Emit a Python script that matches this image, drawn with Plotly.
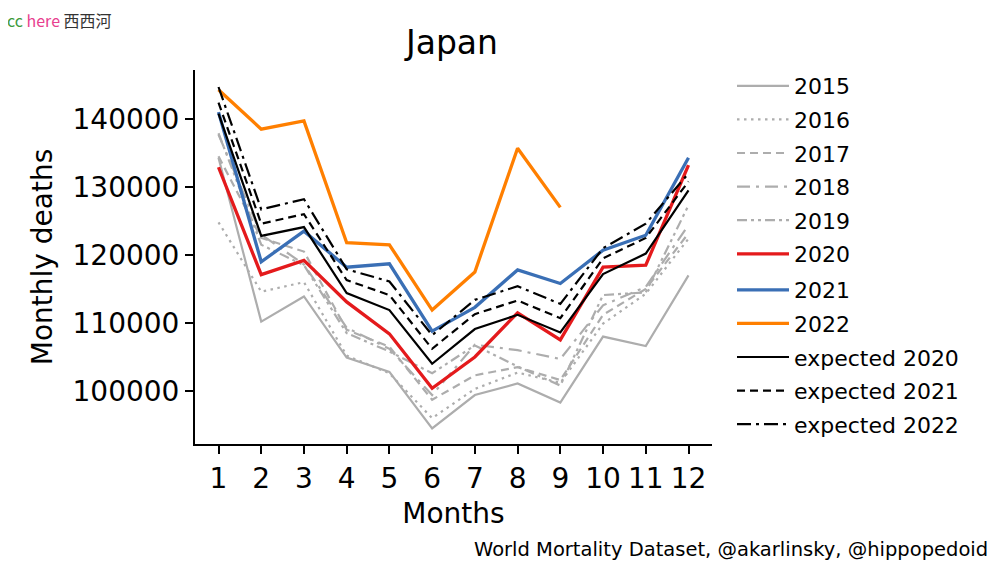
import plotly.graph_objects as go

months = list(range(1, 13))

y2015 = [134300, 110200, 113900, 104900, 102800, 94500, 99400, 101100, 98300, 108000, 106600, 117000]
y2016 = [124800, 114600, 116000, 105200, 102600, 96000, 100300, 102700, 101200, 109900, 114300, 122400]
y2017 = [134500, 122500, 120500, 109000, 106500, 98700, 102300, 103500, 101600, 111200, 115000, 123200]
y2018 = [137700, 123000, 118600, 109300, 106200, 99400, 106800, 106000, 104700, 112600, 115300, 124400]
y2019 = [137900, 121500, 118500, 108500, 105800, 102600, 106700, 103600, 100800, 114100, 114500, 127300]
y2020 = [132900, 117100, 119200, 113100, 108400, 100400, 105000, 111500, 107500, 118200, 118500, 133200]
y2021 = [141000, 119000, 123500, 118200, 118700, 108800, 112300, 117800, 115800, 120700, 122900, 134300]
y2022 = [144300, 138500, 139700, 121800, 121500, 111900, 117500, 135700, 127000]
exp2020 = [140800, 122800, 124100, 114400, 111900, 104000, 109100, 111200, 108600, 117200, 120200, 129500]
exp2021 = [142400, 124600, 126000, 116300, 114100, 106200, 111300, 113300, 110700, 119500, 122500, 130800]
exp2022 = [144700, 126700, 128200, 117900, 116100, 108200, 113400, 115400, 112800, 121000, 124600, 132000]

yticks = [100000, 110000, 120000, 130000, 140000]

GREY = "#adadad"
series = [
    ("2015", y2015, GREY, "solid", 2.2, "legend"),
    ("2016", y2016, GREY, "2.5px,4.5px", 2.2, "legend"),
    ("2017", y2017, GREY, "8px,5px", 2.2, "legend"),
    ("2018", y2018, GREY, "13px,6px,3px,6px", 2.2, "legend"),
    ("2019", y2019, GREY, "10px,4px,3px,4px,3px,4px", 2.2, "legend"),
    ("2020", y2020, "#e41a1c", "solid", 3.3, "legend"),
    ("2021", y2021, "#3a6fb5", "solid", 3.3, "legend2"),
    ("2022", y2022, "#ff7f00", "solid", 3.3, "legend2"),
    ("expected 2020", exp2020, "black", "solid", 2.2, "legend2"),
    ("expected 2021", exp2021, "black", "8px,5px", 2.2, "legend2"),
    ("expected 2022", exp2022, "black", "14px,5px,3px,5px", 2.2, "legend2"),
]

fig = go.Figure()
for name, vals, color, dash, w, leg in series:
    fig.add_trace(go.Scatter(
        x=months[:len(vals)], y=vals, mode="lines", name=name,
        legendgroup=name, legend=leg,
        line=dict(color=color, dash=dash, width=w),
    ))

FONT = "DejaVu Sans"
# the page body adds an 8px offset; figure coordinates below are page - 8
W, H = 992, 554
L, T = 187, 62
PW, PH = 517, 374

leg_common = dict(xanchor="left", yanchor="top",
                  font=dict(size=22, family=FONT, color="black"),
                  tracegroupgap=2, bgcolor="rgba(0,0,0,0)", itemwidth=52)
legx = (732 - 8 - L) / PW
fig.update_layout(
    width=W, height=H,
    paper_bgcolor="white", plot_bgcolor="white",
    margin=dict(l=L, r=W - L - PW, t=T, b=H - T - PH),
    font=dict(family=FONT, color="black"),
    title=dict(text="Japan", x=(452 - 8) / W, xanchor="center",
               y=1 - (42 - 8) / H, yanchor="middle",
               font=dict(size=33, family=FONT, color="black")),
    showlegend=True,
    legend=dict(x=legx, y=1 + (T - (65 - 8)) / PH, **leg_common),
    legend2=dict(x=legx, y=1 - ((269 - 8) - T) / PH, **leg_common),
    xaxis=dict(range=[0.45, 12.55], tickmode="array", tickvals=months,
               ticktext=[str(m) for m in months],
               showgrid=False, zeroline=False,
               showline=True, linecolor="black", linewidth=2,
               ticks="outside", ticklen=8, tickwidth=2, tickcolor="black",
               tickfont=dict(size=28, family=FONT, color="black"),
               title=dict(text="Months", standoff=10,
                          font=dict(size=28, family=FONT, color="black"))),
    yaxis=dict(range=[92200, 147200], tickmode="array", tickvals=yticks,
               ticktext=[str(v) for v in yticks],
               showgrid=False, zeroline=False,
               showline=True, linecolor="black", linewidth=2,
               ticks="outside", ticklen=8, tickwidth=2, tickcolor="black",
               tickfont=dict(size=28, family=FONT, color="black"),
               title=dict(text="Monthly deaths", standoff=12,
                          font=dict(size=28, family=FONT, color="black"))),
)

fig.add_annotation(
    xref="paper", yref="paper", x=(990 - 8 - L) / PW, y=-((549 - 8) - (T + PH)) / PH,
    xanchor="right", yanchor="middle", showarrow=False,
    text="World Mortality Dataset, @akarlinsky, @hippopedoid",
    font=dict(size=19.5, family=FONT, color="black"),
)
fig.add_annotation(
    xref="paper", yref="paper", x=-L / PW, y=1 + T / PH,
    xanchor="left", yanchor="top", showarrow=False, xshift=-3, yshift=2,
    text="<span style='color:#3d9a3d'>cc</span> <span style='color:#e8408f'>here</span> <span style='color:#333333'>西西河</span>",
    font=dict(size=16, family="Noto Sans CJK SC, DejaVu Sans"),
)

fig.write_html("out.html")
